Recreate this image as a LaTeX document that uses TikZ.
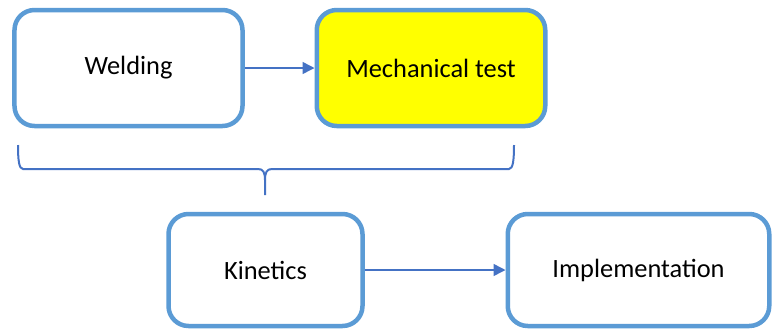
\documentclass[tikz,border=0pt]{standalone}
\usepackage{fontspec}
\setmainfont{Carlito}
\usetikzlibrary{arrows.meta}
\definecolor{boxline}{HTML}{5B9BD5}
\definecolor{arrowc}{HTML}{4472C4}
\definecolor{hiyellow}{HTML}{FFFF00}
\begin{document}
\begin{tikzpicture}[x=1bp,y=-1bp,
  stepbox/.style={draw=boxline, line width=4.5bp, rounded corners=20bp, fill=white,
    rectangle, inner sep=0pt, font=\fontsize{26.5}{30}\selectfont, text=black},
  link/.style={draw=arrowc, line width=1.5bp, -{Triangle[length=12bp,width=12bp]}},
  bracec/.style={draw=arrowc, line width=2bp}]
\useasboundingbox (0,0) rectangle (773,330);
\node[stepbox, minimum width=228bp, minimum height=116bp] (weld) at (128.5,68) {Welding};
\node[stepbox, fill=hiyellow, minimum width=228.5bp, minimum height=116bp] (mech) at (431,68) {Mechanical test};
\node[stepbox, minimum width=194bp, minimum height=112bp] (kin) at (265.5,270) {Kinetics};
\node[stepbox, minimum width=261.5bp, minimum height=112bp] (impl) at (638.5,270) {Implementation};
\draw[link] (weld.east) -- (mech.west);
\draw[link] (kin.east) -- (impl.west);
\coordinate (bl) at (18,145);
\coordinate (br) at (514,145);
\coordinate (btip) at (265,195);
\draw[bracec] (bl) .. controls (18,160) and (19,169) .. (23,169) -- (258,169)
  .. controls (263,169) and (265,172) .. (265,180) -- (btip);
\draw[bracec] (br) .. controls (514,160) and (513,169) .. (509,169) -- (272,169)
  .. controls (267,169) and (265,172) .. (265,180);
\end{tikzpicture}
\end{document}
